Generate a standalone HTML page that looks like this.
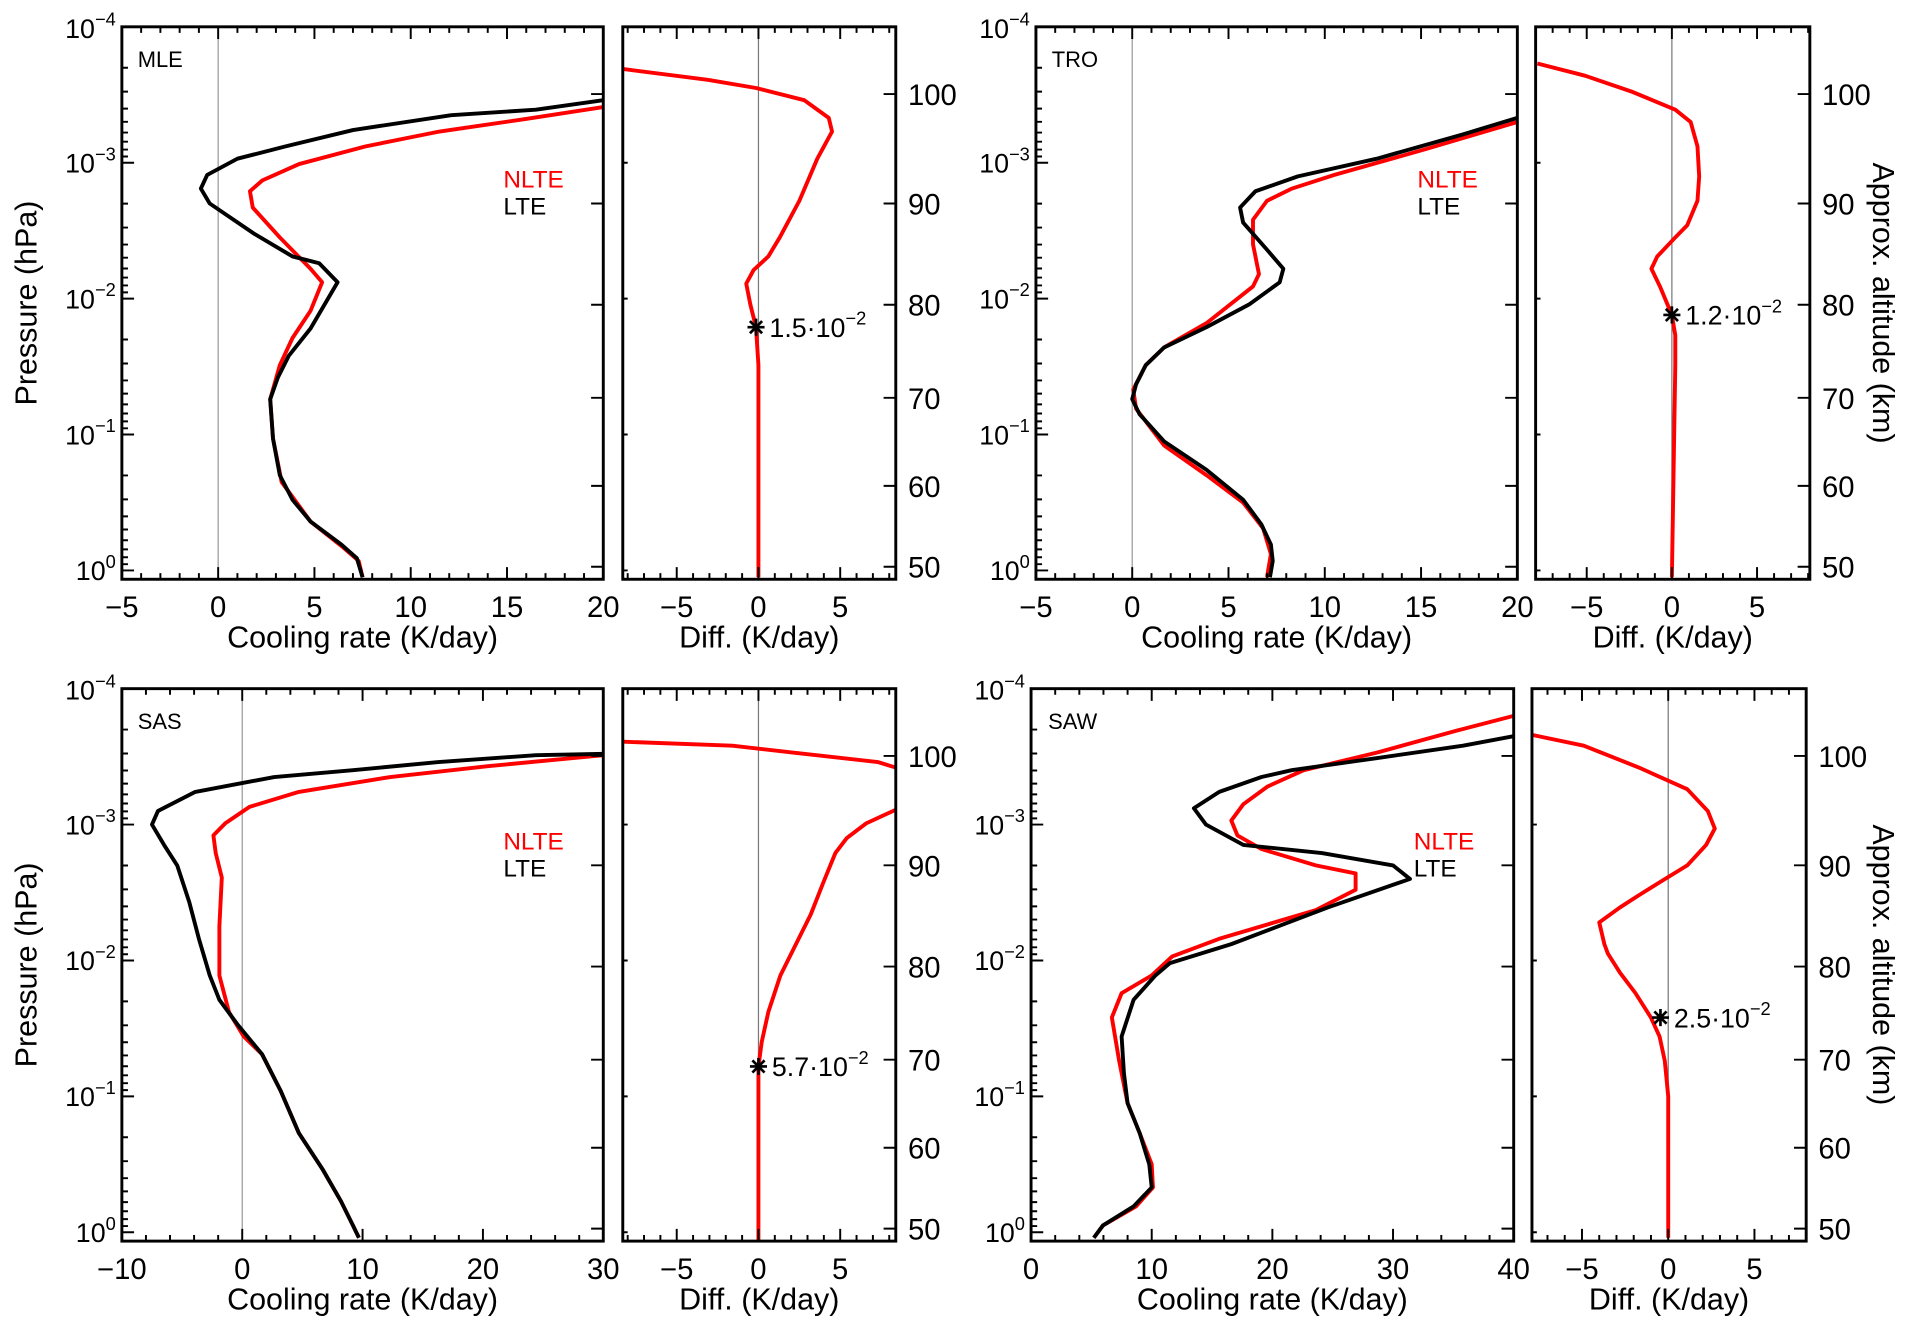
<!DOCTYPE html>
<html><head><meta charset="utf-8"><style>
html,body{margin:0;padding:0;background:#fff;}
svg{display:block;font-family:"Liberation Sans","DejaVu Sans",sans-serif;}
</style></head><body>
<svg id="fig" width="1911" height="1331" viewBox="0 0 1568 1092" preserveAspectRatio="none" xmlns="http://www.w3.org/2000/svg"></svg>
<script>
// ---- data: [log10 pressure (hPa), value] ----
const mleLTE=[[-3.46,20],[-3.39,16.5],[-3.35,12.1],[-3.24,7.0],[-3.12,3.5],[-3.03,1.0],[-2.91,-0.57],[-2.81,-0.9],[-2.70,-0.44],[-2.48,1.84],[-2.31,3.86],[-2.26,5.25],[-2.12,6.2],[-1.78,4.8],[-1.58,3.67],[-1.42,3.1],[-1.26,2.7],[-0.97,2.85],[-0.70,3.2],[-0.52,3.86],[-0.36,4.8],[-0.19,6.4],[-0.09,7.2],[0.05,7.5]];
const mleNLTE=[[-3.41,20],[-3.32,15.9],[-3.23,11.5],[-3.12,7.66],[-2.99,4.2],[-2.87,2.3],[-2.79,1.65],[-2.67,1.8],[-2.45,3.2],[-2.22,4.8],[-2.12,5.4],[-1.91,4.8],[-1.71,3.86],[-1.51,3.2],[-1.26,2.7],[-0.97,2.85],[-0.65,3.3],[-0.36,4.8],[-0.18,6.4],[-0.07,7.3],[0.05,7.5]];
const mleDiff=[[-3.69,-8.3],[-3.61,-3.1],[-3.55,-0.15],[-3.46,2.8],[-3.33,4.3],[-3.23,4.5],[-3.03,3.6],[-2.72,2.5],[-2.45,1.3],[-2.31,0.6],[-2.21,-0.3],[-2.11,-0.75],[-1.96,-0.5],[-1.79,-0.15],[-1.51,0],[0.05,0]];
const troLTE=[[-3.33,20],[-3.21,17.2],[-3.03,12.7],[-2.90,8.6],[-2.79,6.4],[-2.67,5.6],[-2.56,5.76],[-2.36,7.0],[-2.22,7.85],[-2.12,7.66],[-1.96,6.1],[-1.79,3.86],[-1.64,1.65],[-1.51,0.7],[-1.37,0.2],[-1.26,0],[-1.15,0.38],[-0.95,1.65],[-0.74,3.86],[-0.52,5.76],[-0.34,6.7],[-0.19,7.2],[-0.07,7.3],[0.05,7.15]];
const troNLTE=[[-3.30,20],[-3.10,15.25],[-2.91,10.5],[-2.81,8.3],[-2.72,7.0],[-2.58,6.27],[-2.40,6.27],[-2.18,6.58],[-2.09,6.27],[-1.82,3.86],[-1.64,1.65],[-1.51,0.7],[-1.33,0.05],[-1.19,0.2],[-0.92,1.65],[-0.70,3.86],[-0.50,5.76],[-0.31,6.8],[-0.12,7.2],[0.05,7.0]];
const troDiff=[[-3.73,-7.9],[-3.64,-5.1],[-3.52,-2.3],[-3.39,0.2],[-3.30,1.1],[-3.12,1.5],[-2.90,1.6],[-2.72,1.5],[-2.54,0.9],[-2.45,0.2],[-2.31,-0.86],[-2.22,-1.2],[-2.09,-0.7],[-1.88,0],[-1.73,0.2],[-1.51,0.2],[0.05,0]];
const sasLTE=[[-3.52,30],[-3.51,24.4],[-3.46,16.3],[-3.40,9.2],[-3.35,2.66],[-3.24,-3.9],[-3.10,-7.0],[-3.00,-7.5],[-2.85,-6.5],[-2.70,-5.4],[-2.43,-4.4],[-2.16,-3.6],[-1.89,-2.7],[-1.71,-1.9],[-1.53,-0.4],[-1.31,1.65],[-1.04,3.2],[-0.73,4.7],[-0.46,6.7],[-0.23,8.2],[-0.05,9.2],[0.04,9.7]];
const sasNLTE=[[-3.51,30],[-3.43,20.4],[-3.35,12.3],[-3.24,4.7],[-3.13,0.6],[-3.01,-1.4],[-2.92,-2.4],[-2.79,-2.2],[-2.61,-1.7],[-2.25,-1.9],[-1.89,-1.9],[-1.62,-1.1],[-1.44,0.13],[-1.31,1.65],[-1.04,3.2],[-0.73,4.7],[-0.46,6.7],[-0.23,8.2],[-0.05,9.2],[0.04,9.7]];
const sasDiff=[[-3.61,-8.3],[-3.58,-1.6],[-3.53,2.1],[-3.46,7.3],[-3.39,9.2],[-3.28,10.3],[-3.12,8.6],[-3.01,6.6],[-2.90,5.4],[-2.79,4.7],[-2.57,3.96],[-2.34,3.2],[-2.16,2.46],[-1.89,1.34],[-1.62,0.6],[-1.40,0.2],[-1.22,0],[0.06,0]];
const sawLTE=[[-3.65,40],[-3.58,35.8],[-3.49,28.7],[-3.40,21.6],[-3.35,19.1],[-3.24,15.6],[-3.12,13.5],[-3.00,14.5],[-2.85,17.6],[-2.79,24.1],[-2.70,30.0],[-2.60,31.4],[-2.39,24.6],[-2.12,16.6],[-1.98,11.5],[-1.89,10.3],[-1.71,8.5],[-1.44,7.5],[-1.17,7.7],[-0.95,8.0],[-0.73,9.0],[-0.50,9.8],[-0.33,10.0],[-0.19,8.5],[-0.05,5.96],[0.04,5.2]];
const sawNLTE=[[-3.80,40],[-3.69,35.2],[-3.53,28.7],[-3.40,22.6],[-3.28,19.6],[-3.15,17.6],[-3.03,16.6],[-2.92,17.1],[-2.82,19.1],[-2.70,23.6],[-2.64,26.9],[-2.52,26.9],[-2.37,23.6],[-2.16,15.6],[-2.03,11.7],[-1.89,10.0],[-1.76,7.5],[-1.58,6.7],[-1.26,7.3],[-0.95,8.0],[-0.73,9.0],[-0.50,10.0],[-0.33,10.1],[-0.19,8.7],[-0.05,5.96],[0.04,5.2]];
const sawDiff=[[-3.66,-7.9],[-3.58,-4.9],[-3.42,-1.7],[-3.26,1.1],[-3.10,2.3],[-2.97,2.7],[-2.85,2.2],[-2.70,1.1],[-2.59,-0.3],[-2.48,-1.7],[-2.39,-2.8],[-2.28,-4.0],[-2.12,-3.7],[-2.05,-3.5],[-1.91,-2.8],[-1.76,-1.9],[-1.58,-1.0],[-1.44,-0.5],[-1.26,-0.2],[-1.00,0],[0.04,0]];
const markers=[[-1.79,-0.15,"1.5"],[-1.88,0,"1.2"],[-1.22,0,"5.7"],[-1.58,-0.45,"2.5"]];
const pressureTicks=[-4,-3,-2,-1,0];
const altLabels=[100,90,80,70,60,50];
const altLogP=[-3.505,-2.70,-1.955,-1.27,-0.622,-0.027];
const panelNames=["MLE","TRO","SAS","SAW"];

const NS="http://www.w3.org/2000/svg";
const svg=document.getElementById('fig');
function el(tag,attrs,parent){const e=document.createElementNS(NS,tag);for(const k in attrs)e.setAttribute(k,attrs[k]);(parent||svg).appendChild(e);return e;}

const panels=[
 {name:panelNames[0],top:22,mx0:100,mx1:495,min:-5,max:20,maj:5,mnr:1,dx0:511,dx1:735,dmin:-8.3,dmax:8.4,lte:mleLTE,nlte:mleNLTE,diff:mleDiff,mk:markers[0],leg:[413,147],lab:[113,48],rightTitle:false},
 {name:panelNames[1],top:22,mx0:850,mx1:1245,min:-5,max:20,maj:5,mnr:1,dx0:1260,dx1:1485,dmin:-8,dmax:8.1,lte:troLTE,nlte:troNLTE,diff:troDiff,mk:markers[1],leg:[1163,147],lab:[863,48],rightTitle:true},
 {name:panelNames[2],top:565,mx0:100,mx1:495,min:-10,max:30,maj:10,mnr:2,dx0:511,dx1:735,dmin:-8.3,dmax:8.4,lte:sasLTE,nlte:sasNLTE,diff:sasDiff,mk:markers[2],leg:[413,690],lab:[113,591],rightTitle:false},
 {name:panelNames[3],top:565,mx0:846,mx1:1242,min:0,max:40,maj:10,mnr:2,dx0:1257,dx1:1482,dmin:-7.9,dmax:8,lte:sawLTE,nlte:sawNLTE,diff:sawDiff,mk:markers[3],leg:[1160,690],lab:[860,591],rightTitle:true}
];
const DEC=111.5, LPMAX=0.065;
const fmt=v=>(v<0?'\u2212'+(-v):''+v);

panels.forEach((p,pi)=>{
  const g=el('g',{});
  
  
  const bot=p.top+(LPMAX+4)*DEC;
  const Y=lp=>p.top+(lp+4)*DEC;
  const X=v=>p.mx0+(v-p.min)/(p.max-p.min)*(p.mx1-p.mx0);
  const DX=v=>p.dx0+(v-p.dmin)/(p.dmax-p.dmin)*(p.dx1-p.dx0);
  const clipId='clip'+pi, clipD='clipd'+pi;
  const defs=el('defs',{},g);
  const c1=el('clipPath',{id:clipId},defs);el('rect',{x:p.mx0,y:p.top,width:p.mx1-p.mx0,height:bot-p.top},c1);
  const c2=el('clipPath',{id:clipD},defs);el('rect',{x:p.dx0,y:p.top,width:p.dx1-p.dx0,height:bot-p.top},c2);
  let z=el('line',{x1:X(0),x2:X(0),y1:p.top,y2:bot,stroke:'#999','stroke-width':1},g);
  
  z=el('line',{x1:DX(0),x2:DX(0),y1:p.top,y2:bot,stroke:'#777','stroke-width':1},g);
  
  const path=(arr,fx)=>arr.map((d,i)=>(i?'L':'M')+fx(d[1]).toFixed(1)+' '+Y(d[0]).toFixed(1)).join(' ');
  let l=el('path',{d:path(p.nlte,X),fill:'none',stroke:'#ff0000','stroke-width':3.2,'stroke-linejoin':'round','clip-path':'url(#'+clipId+')'},g);
  
  l=el('path',{d:path(p.lte,X),fill:'none',stroke:'#000','stroke-width':3.2,'stroke-linejoin':'round','clip-path':'url(#'+clipId+')'},g);
  
  l=el('path',{d:path(p.diff,DX),fill:'none',stroke:'#ff0000','stroke-width':3.2,'stroke-linejoin':'round','clip-path':'url(#'+clipD+')'},g);
  
  let b=el('rect',{x:p.mx0,y:p.top,width:p.mx1-p.mx0,height:bot-p.top,fill:'none',stroke:'#000','stroke-width':2.4},g);
  
  b=el('rect',{x:p.dx0,y:p.top,width:p.dx1-p.dx0,height:bot-p.top,fill:'none',stroke:'#000','stroke-width':2.4},g);
  
  let tk='';
  for(let v=p.min;v<=p.max+1e-6;v+=p.mnr){const x=X(v);const len=(Math.abs(v/p.maj-Math.round(v/p.maj))<1e-6)?10:5;tk+=`M${x} ${bot}v${-len}M${x} ${p.top}v${len}`;}
  for(let v=Math.ceil(p.dmin);v<=p.dmax;v+=1){const x=DX(v);const len=(v%5===0)?10:5;tk+=`M${x} ${bot}v${-len}M${x} ${p.top}v${len}`;}
  for(let d=-4;d<=0;d++){for(let m=1;m<=9;m++){const lp=d+Math.log10(m);if(lp>LPMAX)break;const y=Y(lp);const len=m===1?10:5;tk+=`M${p.mx0} ${y}h${len}M${p.dx0} ${y}h${m===1?4:0}`;}}
  altLogP.forEach(lp=>{const y=Y(lp);tk+=`M${p.mx1} ${y}h-10M${p.dx1} ${y}h-10`;});
  let t=el('path',{d:tk,stroke:'#000','stroke-width':1.6,fill:'none'},g);
  
  for(let v=p.min;v<=p.max+1e-6;v+=p.maj){const tx=el('text',{x:X(v),y:bot+31,'font-size':24,'text-anchor':'middle'},g);tx.textContent=fmt(v);
    }
  for(let v=-5;v<=5;v+=5){const tx=el('text',{x:DX(v),y:bot+31,'font-size':24,'text-anchor':'middle'},g);tx.textContent=fmt(v);
    }
  let ti=el('text',{x:(p.mx0+p.mx1)/2,y:bot+56,'font-size':25,'text-anchor':'middle'},g);ti.textContent='Cooling rate (K/day)';
  
  ti=el('text',{x:(p.dx0+p.dx1)/2,y:bot+56,'font-size':25,'text-anchor':'middle'},g);ti.textContent='Diff. (K/day)';
  
  pressureTicks.forEach(d=>{const tx=el('text',{x:p.mx0-5,y:Y(d)+(d===-4?9:8),'font-size':22,'text-anchor':'end'},g);
    tx.textContent='10';const s=el('tspan',{dy:-10,'font-size':15},tx);s.textContent=d===0?'0':'\u2212'+(-d);
    });
  if(pi%2===0){const yt=el('text',{transform:`translate(30 ${(p.top+bot)/2}) rotate(-90)`,'font-size':25,'text-anchor':'middle'},g);yt.textContent='Pressure (hPa)';
    }
  altLabels.forEach((a,i)=>{const tx=el('text',{x:p.dx1+10,y:Y(altLogP[i])+9,'font-size':24},g);tx.textContent=a;
    }
  );
  if(p.rightTitle){const yt=el('text',{transform:`translate(1537 ${(p.top+bot)/2}) rotate(90)`,'font-size':25,'text-anchor':'middle'},g);yt.textContent='Approx. altitude (km)';
    }
  let lb=el('text',{x:p.lab[0],y:p.lab[1]+7,'font-size':18},g);lb.textContent=p.name;
  
  let lg=el('text',{x:p.leg[0],y:p.leg[1]+7,'font-size':20,fill:'#ff0000'},g);lg.textContent='NLTE';
  
  lg=el('text',{x:p.leg[0],y:p.leg[1]+29,'font-size':20,fill:'#000'},g);lg.textContent='LTE';
  
  const mx=DX(p.mk[1]),my=Y(p.mk[0]);
  let mk=el('path',{d:`M${mx-7} ${my}h14M${mx} ${my-7}v14M${mx-5} ${my-5}l10 10M${mx-5} ${my+5}l10 -10`,stroke:'#000','stroke-width':2.2},g);
  
  let mt=el('text',{x:mx+11,y:my+8,'font-size':22},g);mt.textContent=p.mk[2]+'\u00b710';
  const sp=el('tspan',{dy:-10,'font-size':15},mt);sp.textContent='\u22122';
  
});
</script>
</body></html>
